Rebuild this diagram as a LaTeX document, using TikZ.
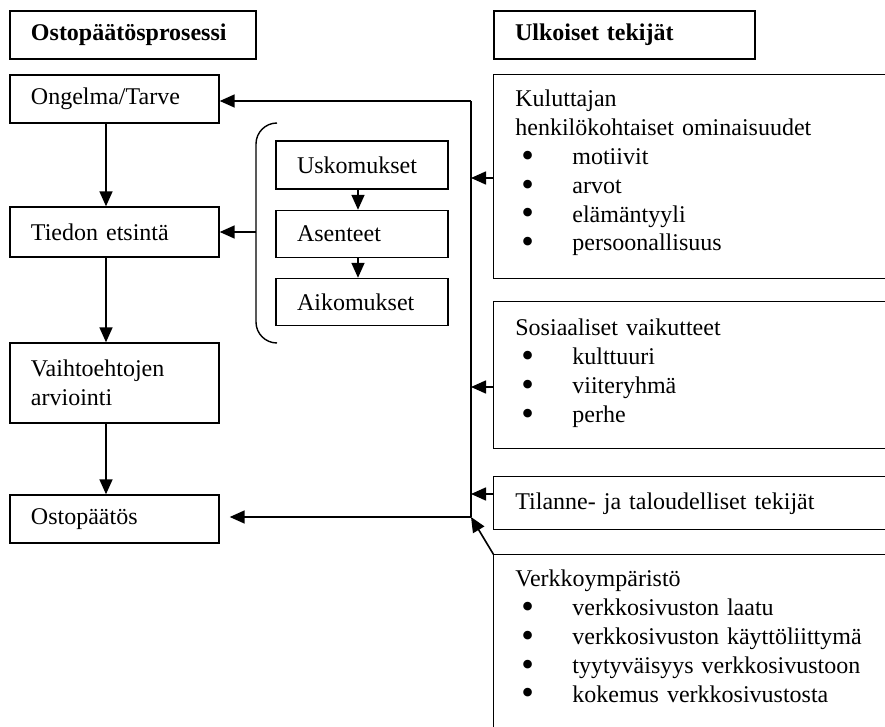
\documentclass[tikz,border=0pt]{standalone}
\usepackage{fontspec}
\usepackage{graphicx}
\setmainfont{Liberation Serif}
\usetikzlibrary{arrows.meta,positioning}
\newcommand{\bul}[1]{\hspace*{3pt}\makebox[25.5pt][l]{\smash{\raisebox{-1.35pt}{\scalebox{1.5}{\textbullet}}}}#1}

\begin{document}
\begin{tikzpicture}[x=0.5pt,y=-0.5pt,
    font=\fontsize{12}{14.4}\selectfont,
    box/.style={draw,line width=0.7pt},
    stage/.style={box,minimum width=104.5pt,minimum height=24pt,text width=83.5pt,
      inner xsep=10.5pt,inner ysep=0pt,align=left},
    inner/.style={stage,minimum width=86pt,text width=65pt,minimum height=23.5pt},
    head/.style={stage,font=\fontsize{12}{14.4}\selectfont\bfseries},
    panel/.style={inner sep=0pt},
    lbl/.style={inner sep=0pt,anchor=base west,text width=180pt,align=left},
    arr/.style={line width=0.8pt,-{Triangle[length=7.5pt,width=6.5pt]}}]
    \useasboundingbox (0,0) rectangle (885,727);

    % headings
    \node[head,text width=102pt] (hproc) at (133,35) {Ostopäätösprosessi};
    \node[head,text width=109.5pt] (hext) at (624.5,35) {Ulkoiset tekijät};

    % decision process
    \node[stage] (onge) at (114.5,99) {Ongelma/Tarve};
    \node[stage,minimum height=25pt] (tied) at (114.5,232) {Tiedon etsintä};
    \node[stage,minimum height=40pt] (vaih) at (114.5,383) {Vaihtoehtojen\\arviointi};
    \node[stage] (ostop) at (114.5,519) {Ostopäätös};
    \foreach \a/\b in {onge/tied,tied/vaih,vaih/ostop}
      \draw[arr] (\a.south -| 106,0) -- (\b.north -| 106,0);

    % attitudes in a bracket
    \node[inner,minimum height=24pt] (usk) at (362,165) {Uskomukset};
    \node[inner] (ase) at (362,234) {Asenteet};
    \node[inner] (aik) at (362,302) {Aikomukset};
    \foreach \a/\b in {usk/ase,ase/aik}
      \draw[arr] (\a.south -| 358,0) -- (\b.north -| 358,0);
    \draw[line width=0.7pt] (277,123) to[out=180,in=90] (256,144) -- (256,322)
      to[out=-90,in=180] (277,343);
    \coordinate (brak) at (256,232);
    \draw[arr] (brak) -- (tied.east |- brak);

    % external factors, open on the right
    \node[panel,minimum width=195.5pt,minimum height=101.5pt] (kul) at (689.5,176.5) {};
    \node[panel,minimum width=195.5pt,minimum height=73pt] (sos) at (689.5,375) {};
    \node[panel,minimum width=195.5pt,minimum height=26pt] (tila) at (689.5,503) {};
    \node[panel,minimum width=195.5pt,minimum height=86pt] (verk) at (689.5,641) {};
    \foreach \p in {kul,sos,tila}
      \draw[box] (\p.north east) -| (\p.south west) -- (\p.south east);
    \draw[box] (verk.north east) -| (verk.south west);

    \node[lbl] (kultxt) at (515,107) {Kuluttajan\\henkilökohtaiset ominaisuudet\\
      \bul{motiivit}\\\bul{arvot}\\\bul{elämäntyyli}\\\bul{persoonallisuus}};
    \node[lbl] (sostxt) at (515,336) {Sosiaaliset vaikutteet\\
      \bul{kulttuuri}\\\bul{viiteryhmä}\\\bul{perhe}};
    \node[lbl] (tilatxt) at (515,510) {Tilanne- ja taloudelliset tekijät};
    \node[lbl] (verktxt) at (515,587) {Verkkoympäristö\\
      \bul{verkkosivuston laatu}\\\bul{verkkosivuston käyttöliittymä}\\
      \bul{tyytyväisyys verkkosivustoon}\\\bul{kokemus verkkosivustosta}};

    % collecting line
    \coordinate (bustop) at (471,101);
    \coordinate (busbot) at (471,517);
    \draw[line width=0.8pt] (busbot) -- (bustop);
    \draw[arr] (bustop) -- (onge.east |- bustop);
    \draw[arr,shorten >=5pt] (busbot) -- (ostop.east |- busbot);
    \draw[arr] (kul.west |- 0,178) -- (bustop |- 0,178);
    \draw[arr] (sos.west |- 0,387) -- (bustop |- 0,387);
    \draw[arr] (tila.west |- 0,494) -- (bustop |- 0,494);
    \draw[arr] (verk.north west) -- (busbot);
\end{tikzpicture}
\end{document}
